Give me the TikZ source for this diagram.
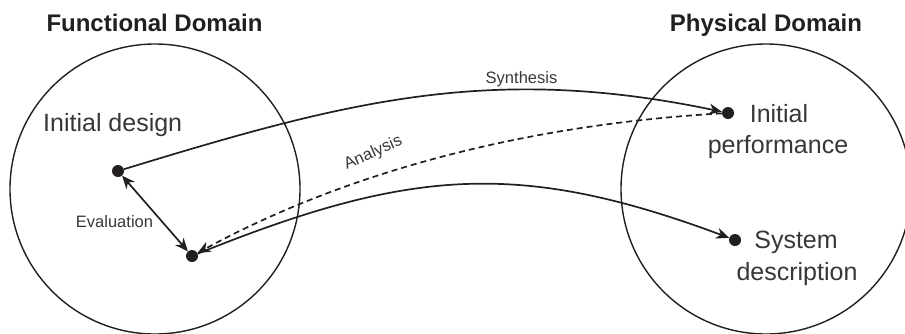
\documentclass[tikz,border=0pt]{standalone}
\usepackage{fontspec}
\setmainfont{Liberation Sans}
\usetikzlibrary{arrows.meta}
\definecolor{linec}{RGB}{35,31,32}
\definecolor{textc}{RGB}{55,55,55}
\tikzset{
  domaincircle/.style={circle, draw=linec, line width=1.4pt, minimum size=290pt, inner sep=0pt},
  dot/.style={circle, fill=linec, inner sep=0pt, minimum size=12pt},
  titletext/.style={anchor=base, text=linec, font=\bfseries\fontsize{24}{28}\selectfont, inner sep=0pt},
  biglabel/.style={anchor=base, text=textc, font=\fontsize{25}{30}\selectfont, inner sep=0pt},
  smalllabel/.style={anchor=base, text=textc, font=\fontsize{16.5}{20}\selectfont, inner sep=0pt},
  tip/.style={},
  conn/.style={draw=linec, line width=1.7pt, -{Stealth[length=13pt,width=11pt,inset=4pt]}},
  dashconn/.style={conn, dash pattern=on 6pt off 4pt},
  biconn/.style={draw=linec, line width=1.7pt, {Stealth[length=13pt,width=11pt,inset=4pt]}-{Stealth[length=13pt,width=11pt,inset=4pt]}}
}
\begin{document}
\begin{tikzpicture}[x=1pt,y=-1pt]
\useasboundingbox (0,0) rectangle (905,333);
% domains
\node[domaincircle] (fd) at (155,189) {};
\node[domaincircle] (pd) at (766,189) {};
\node[titletext] (fdt) at (154.5,31) {Functional Domain};
\node[titletext] (pdt) at (766,31) {Physical Domain};
% dots
\node[dot] (d1) at (118,171) {};
\node[dot] (d2) at (192,256) {};
\node[dot] (d3) at (728,113) {};
\node[dot] (d4) at (735,240) {};
% labels
\node[biglabel, anchor=base west] (l1) at (43,131) {Initial design};
\node[biglabel] (l3a) at (779,122) {Initial};
\node[biglabel] (l3b) at (778,153) {performance};
\node[biglabel] (l4a) at (796,248) {System};
\node[biglabel] (l4b) at (797,280) {description};
\node[smalllabel] (ev) at (114.5,227) {Evaluation};
\node[smalllabel] (sy) at (521.5,83) {Synthesis};
\node[smalllabel, rotate=24] (an) at (375,157) {Analysis};
% connectors
\draw[conn] (d1) .. controls (344,102) and (489,63) .. (d3);
\draw[dashconn] (d3) .. controls (470,128) and (300,197) .. (d2);
\draw[conn] (d2) .. controls (410,168) and (520,160) .. (d4);
\draw[biconn] (d1) -- (d2);
\end{tikzpicture}
\end{document}
